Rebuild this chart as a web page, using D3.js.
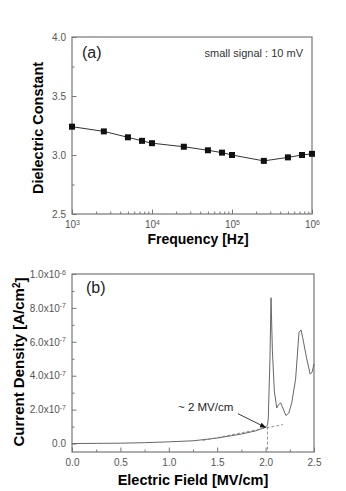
<!DOCTYPE html>
<html>
<head>
<meta charset="utf-8">
<script src="https://cdn.jsdelivr.net/npm/d3@7"></script>
<style>
  body { margin: 0; background: #fff; }
  svg { font-family: Arial, "Liberation Sans", sans-serif; }
  .tick text { fill: #555; font-size: 10px; }
  .tick line { stroke: #777; }
  .domain { display: none; }
</style>
</head>
<body>
<div id="chart"></div>
<script>
// panel (a): dielectric constant vs frequency
var freq = [1e3, 2.5e3, 5e3, 7.5e3, 1e4, 2.5e4, 5e4, 7.5e4, 1e5, 2.5e5, 5e5, 7.5e5, 1e6]
var dielectric = [3.24, 3.20, 3.15, 3.12, 3.10, 3.07, 3.04, 3.02, 3.00, 2.95, 2.98, 3.00, 3.01]
var freqTicks = [1e3, 1e4, 1e5, 1e6]
var dielTicks = [2.5, 3.0, 3.5, 4.0]

// panel (b): current density (x1e-7 A/cm2) vs electric field
var field = [0, 0.25, 0.5, 0.75, 1.0, 1.25, 1.5, 1.75, 1.9, 2.0, 2.02, 2.028, 2.045, 2.056, 2.07, 2.09,
             2.115, 2.135, 2.156, 2.17, 2.21, 2.24, 2.27, 2.31, 2.345, 2.366, 2.383, 2.425, 2.46, 2.48, 2.5]
var current = [0, 0.01, 0.02, 0.05, 0.10, 0.16, 0.32, 0.56, 0.75, 0.97, 1.1, 1.5, 5.0, 8.6, 5.5, 3.1,
               2.1, 2.3, 2.4, 2.2, 1.65, 1.8, 2.4, 3.8, 6.55, 6.7, 6.25, 5.0, 4.1, 4.2, 4.7]
var fitField = [1.35, 2.18]
var fitCurrent = [0.18, 1.12]
var onsetField = 2.02
var fieldTicks = [0, 0.5, 1.0, 1.5, 2.0, 2.5]
var currentTicks = [0, 2, 4, 6, 8, 10]

var svg = d3.select("#chart")
  .append("svg")
    .attr("width", 346)
    .attr("height", 491)

// ---------- panel (a) ----------
var a = {left: 72, right: 312, top: 37, bottom: 214}

var x1 = d3.scaleLog().domain([1e3, 1e6]).range([a.left, a.right])
var y1 = d3.scaleLinear().domain([2.5, 4.0]).range([a.bottom, a.top])

var minorF = []
for (var e = 3; e < 6; e++) for (var m = 2; m < 10; m++) minorF.push(m * Math.pow(10, e))

svg.append("g")
  .attr("transform", "translate(0," + a.bottom + ")")
  .call(d3.axisBottom(x1).tickValues(minorF).tickSize(-2.5).tickFormat(""))
svg.append("g")
  .attr("class", "xA")
  .attr("transform", "translate(0," + a.bottom + ")")
  .call(d3.axisBottom(x1).tickValues(freqTicks).tickSize(-4.5).tickPadding(5).tickFormat(""))

svg.select(".xA").selectAll(".tick text")
  .attr("dy", "0.9em")
  .each(function (d) {
    var t = d3.select(this)
    t.append("tspan").text("10")
    t.append("tspan").attr("dy", "-0.45em").style("font-size", "7px").text(Math.round(Math.log10(d)))
  })

svg.append("g")
  .attr("transform", "translate(" + a.left + ",0)")
  .call(d3.axisLeft(y1).tickValues([2.75, 3.25, 3.75]).tickSize(-2.5).tickFormat(""))
svg.append("g")
  .attr("transform", "translate(" + a.left + ",0)")
  .call(d3.axisLeft(y1).tickValues(dielTicks).tickSize(-4.5).tickPadding(6).tickFormat(d3.format(".1f")))

svg.append("rect")
  .attr("x", a.left).attr("y", a.top)
  .attr("width", a.right - a.left).attr("height", a.bottom - a.top)
  .attr("fill", "none").attr("stroke", "#777").attr("stroke-width", 1.2)

var ptsA = freq.map(function (f, i) { return [f, dielectric[i]] })

svg.append("path")
  .datum(ptsA)
  .attr("fill", "none")
  .attr("stroke", "#333")
  .attr("stroke-width", 1)
  .attr("d", d3.line().x(function (d) { return x1(d[0]) }).y(function (d) { return y1(d[1]) }))

svg.append("g")
  .selectAll("rect")
  .data(ptsA)
  .enter()
  .append("rect")
    .attr("x", function (d) { return x1(d[0]) - 3 })
    .attr("y", function (d) { return y1(d[1]) - 3 })
    .attr("width", 6)
    .attr("height", 6)
    .attr("fill", "#111")

svg.append("text")
  .attr("x", 82).attr("y", 58)
  .style("font-size", "16px").attr("fill", "#222")
  .text("(a)")

svg.append("text")
  .attr("x", 303).attr("y", 57)
  .attr("text-anchor", "end")
  .style("font-size", "11px").attr("fill", "#333")
  .text("small signal : 10 mV")

svg.append("text")
  .attr("x", 198).attr("y", 244)
  .attr("text-anchor", "middle")
  .style("font-size", "14px").style("font-weight", "bold")
  .text("Frequency [Hz]")

svg.append("text")
  .attr("transform", "translate(43," + 128 + ") rotate(-90)")
  .attr("text-anchor", "middle")
  .style("font-size", "14.5px").style("font-weight", "bold")
  .text("Dielectric Constant")

// ---------- panel (b) ----------
var b = {left: 72, right: 314, top: 274, bottom: 452}

var x2 = d3.scaleLinear().domain([0, 2.5]).range([b.left, b.right])
var y2 = d3.scaleLinear().domain([-0.5, 10]).range([b.bottom, b.top])

svg.append("g")
  .attr("transform", "translate(0," + b.bottom + ")")
  .call(d3.axisBottom(x2).tickValues([0.25, 0.75, 1.25, 1.75, 2.25]).tickSize(-2.5).tickFormat(""))
svg.append("g")
  .attr("transform", "translate(0," + b.bottom + ")")
  .call(d3.axisBottom(x2).tickValues(fieldTicks).tickSize(-4.5).tickPadding(7).tickFormat(d3.format(".1f")))

svg.append("g")
  .attr("transform", "translate(" + b.left + ",0)")
  .call(d3.axisLeft(y2).tickValues([1, 3, 5, 7, 9]).tickSize(-2.5).tickFormat(""))
svg.append("g")
  .attr("class", "yB")
  .attr("transform", "translate(" + b.left + ",0)")
  .call(d3.axisLeft(y2).tickValues(currentTicks).tickSize(-4.5).tickPadding(6).tickFormat(""))

svg.select(".yB").selectAll(".tick text")
  .each(function (d) {
    var t = d3.select(this)
    if (d === 0) { t.text("0.0"); return }
    var ex = d === 10 ? -6 : -7
    var mant = d === 10 ? 1 : d
    t.append("tspan").text(mant.toFixed(1) + "x10")
    t.append("tspan").attr("dy", "-0.45em").style("font-size", "7px").text(ex)
  })

svg.append("rect")
  .attr("x", b.left).attr("y", b.top)
  .attr("width", b.right - b.left).attr("height", b.bottom - b.top)
  .attr("fill", "none").attr("stroke", "#777").attr("stroke-width", 1.2)

var ptsB = field.map(function (f, i) { return [f, current[i]] })

svg.append("path")
  .datum(ptsB)
  .attr("fill", "none")
  .attr("stroke", "#666")
  .attr("stroke-width", 1)
  .attr("d", d3.line().x(function (d) { return x2(d[0]) }).y(function (d) { return y2(d[1]) }))

// fitted line and onset marker
svg.append("line")
  .attr("x1", x2(fitField[0])).attr("y1", y2(fitCurrent[0]))
  .attr("x2", x2(fitField[1])).attr("y2", y2(fitCurrent[1]))
  .attr("stroke", "#777").attr("stroke-width", 0.8).attr("stroke-dasharray", "3,2")
svg.append("line")
  .attr("x1", x2(onsetField)).attr("y1", y2(1.0))
  .attr("x2", x2(onsetField)).attr("y2", y2(-0.5))
  .attr("stroke", "#777").attr("stroke-width", 0.8).attr("stroke-dasharray", "3,2")

svg.append("defs").append("marker")
  .attr("id", "arr")
  .attr("viewBox", "0 0 10 10")
  .attr("refX", 9).attr("refY", 5)
  .attr("markerWidth", 7).attr("markerHeight", 7)
  .attr("orient", "auto")
  .append("path").attr("d", "M0,1 L10,5 L0,9 Z").attr("fill", "#111")

svg.append("line")
  .attr("x1", x2(1.715)).attr("y1", y2(1.76))
  .attr("x2", x2(2.0)).attr("y2", y2(0.95))
  .attr("stroke", "#222").attr("stroke-width", 0.9)
  .attr("marker-end", "url(#arr)")

svg.append("text")
  .attr("x", x2(1.095)).attr("y", y2(1.9))
  .style("font-size", "11.5px").attr("fill", "#222")
  .text("~ 2 MV/cm")

svg.append("text")
  .attr("x", 86).attr("y", 293)
  .style("font-size", "16px").attr("fill", "#222")
  .text("(b)")

svg.append("text")
  .attr("x", 193).attr("y", 485)
  .attr("text-anchor", "middle")
  .style("font-size", "14.5px").style("font-weight", "bold")
  .text("Electric Field [MV/cm]")

var yl = svg.append("text")
  .attr("transform", "translate(24," + 362 + ") rotate(-90)")
  .attr("text-anchor", "middle")
  .style("font-size", "15px").style("font-weight", "bold")
yl.append("tspan").text("Current Density  [A/cm")
yl.append("tspan").attr("dy", "-0.45em").style("font-size", "10px").text("2")
yl.append("tspan").attr("dy", "0.45em").text("]")
</script>
</body>
</html>
